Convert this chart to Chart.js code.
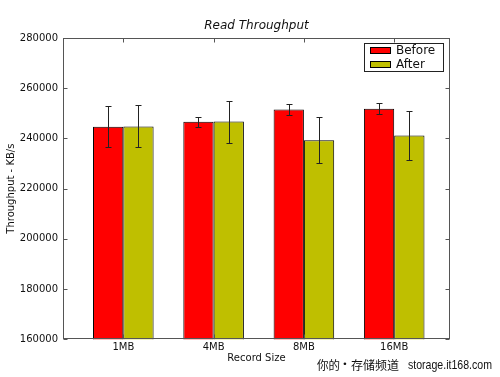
<!DOCTYPE html>
<html>
<head>
<meta charset="utf-8">
<script src="https://cdn.jsdelivr.net/npm/chart.js@4/dist/chart.umd.min.js"></script>
<style>
  html, body { margin: 0; padding: 0; background: #fff; }
  canvas { display: block; }
</style>
</head>
<body>
<canvas id="c" width="500" height="377"></canvas>
<script>
// ---- data ----
const categories = ['1MB', '4MB', '8MB', '16MB'];
const seriesNames = ['Before', 'After'];
const beforeValues = [244700, 246600, 251500, 251800];
const afterValues  = [244800, 246700, 239300, 241200];
const beforeErrors = [8200, 2100, 2300, 2200];
const afterErrors  = [8400, 8400, 9200, 9600];
const yMin = 160000, yMax = 280000, yStep = 20000;
const titleText = 'Read Throughput';
const xTitle = 'Record Size';
const yTitle = 'Throughput - KB/s';
const watermarkCJK = ['你的', '•', '存储频道'];
const watermarkURL = 'storage.it168.com';

const FONT = '"DejaVu Sans", "Liberation Sans", sans-serif';
const idx = categories.map((_, i) => i);

const overlay = {
  id: 'overlay',
  afterDatasetsDraw(chart) {
    const { ctx, scales: { y } } = chart;
    ctx.save();
    ctx.strokeStyle = '#222';
    ctx.lineWidth = 1;
    chart.data.datasets.forEach((ds, di) => {
      const meta = chart.getDatasetMeta(di);
      ds.errorBars.forEach((e, i) => {
        const bar = meta.data[i];
        const v = ds.data[i].y;
        const x = Math.round(bar.x) + 0.5;
        const yt = Math.round(y.getPixelForValue(v + e)) + 0.5;
        const yb = Math.round(y.getPixelForValue(v - e)) + 0.5;
        ctx.beginPath();
        ctx.moveTo(x, yt); ctx.lineTo(x, yb);
        ctx.moveTo(x - 3, yt); ctx.lineTo(x + 3, yt);
        ctx.moveTo(x - 3, yb); ctx.lineTo(x + 3, yb);
        ctx.stroke();
      });
    });
    ctx.restore();
  },
  afterDraw(chart) {
    const { ctx, chartArea: a, scales: { x, y } } = chart;
    ctx.save();
    // frame
    ctx.strokeStyle = '#555';
    ctx.lineWidth = 1;
    const L = Math.round(a.left) + 0.5, R = Math.round(a.right) - 0.5;
    const T = Math.round(a.top) + 0.5, B = Math.round(a.bottom) - 0.5;
    ctx.strokeRect(L, T, R - L, B - T);
    // inward ticks
    ctx.beginPath();
    y.ticks.forEach(t => {
      const py = Math.round(y.getPixelForValue(t.value)) + 0.5;
      ctx.moveTo(L, py); ctx.lineTo(L + 4, py);
      ctx.moveTo(R, py); ctx.lineTo(R - 4, py);
    });
    x.ticks.forEach(t => {
      const px = Math.round(x.getPixelForValue(t.value)) + 0.5;
      ctx.moveTo(px, T); ctx.lineTo(px, T + 4);
      ctx.moveTo(px, B); ctx.lineTo(px, B - 4);
    });
    ctx.stroke();

    // title
    ctx.fillStyle = '#111';
    ctx.font = 'italic 12px ' + FONT;
    ctx.textAlign = 'center';
    ctx.textBaseline = 'middle';
    ctx.fillText(titleText, (a.left + a.right) / 2, 26);

    // legend
    ctx.fillStyle = '#fff';
    ctx.fillRect(364.5, 43.5, 79, 28);
    ctx.strokeStyle = '#222';
    ctx.strokeRect(364.5, 43.5, 79, 28);
    ctx.font = '12px ' + FONT;
    ctx.textAlign = 'left';
    chart.data.datasets.forEach((ds, i) => {
      const sy = 47 + i * 14;
      ctx.fillStyle = ds.backgroundColor;
      ctx.fillRect(370, sy, 21, 7);
      ctx.strokeStyle = '#000';
      ctx.strokeRect(370.5, sy + 0.5, 20, 6);
      ctx.fillStyle = '#111';
      ctx.fillText(ds.label, 396, sy + 4);
    });

    // watermark
    ctx.fillStyle = '#111';
    ctx.font = '12px "Noto Sans CJK SC", sans-serif';
    ctx.fillText(watermarkCJK[0], 317, 365, 23);
    ctx.textAlign = 'center';
    ctx.font = '9px "DejaVu Sans", sans-serif';
    ctx.fillText(watermarkCJK[1], 345, 365);
    ctx.textAlign = 'left';
    ctx.font = '12px "Noto Sans CJK SC", sans-serif';
    ctx.fillText(watermarkCJK[2], 351, 365, 49);
    ctx.font = '13px "Liberation Sans", sans-serif';
    ctx.fillText(watermarkURL, 408, 365, 84);
    ctx.restore();
  }
};

new Chart(document.getElementById('c'), {
  type: 'bar',
  data: {
    datasets: [
      {
        label: seriesNames[0],
        data: idx.map(i => ({ x: i, y: beforeValues[i] })),
        errorBars: beforeErrors,
        backgroundColor: '#ff0000',
        borderColor: '#000',
        borderWidth: 1
      },
      {
        label: seriesNames[1],
        data: idx.map(i => ({ x: i, y: afterValues[i] })),
        errorBars: afterErrors,
        backgroundColor: '#bfbf00',
        borderColor: '#000',
        borderWidth: 1
      }
    ]
  },
  options: {
    responsive: false,
    devicePixelRatio: 1,
    animation: false,
    categoryPercentage: 0.671,
    barPercentage: 1,
    layout: { padding: { left: 0, right: 50, top: 38, bottom: 0 } },
    plugins: {
      legend: { display: false },
      title: { display: false },
      tooltip: { enabled: false }
    },
    scales: {
      x: {
        type: 'linear',
        min: -0.668,
        max: 3.618,
        offset: false,
        grid: { display: false, drawTicks: false },
        border: { display: false },
        afterBuildTicks: s => { s.ticks = idx.map(v => ({ value: v })); },
        afterFit: s => { s.height = 37.7; },
        ticks: {
          padding: 2,
          autoSkip: false,
          maxRotation: 0,
          color: '#111',
          font: { family: FONT, size: 10 },
          callback: v => categories[v]
        },
        title: {
          display: true,
          text: xTitle,
          color: '#111',
          font: { family: FONT, size: 10 },
          padding: { top: 0, bottom: 13 }
        }
      },
      y: {
        min: yMin,
        max: yMax,
        grid: { display: false, drawTicks: false },
        border: { display: false },
        afterFit: s => { s.width = 63; },
        ticks: {
          stepSize: yStep,
          padding: 5,
          color: '#111',
          font: { family: FONT, size: 10 },
          callback: v => String(v)
        },
        title: {
          display: true,
          text: yTitle,
          color: '#111',
          font: { family: FONT, size: 10 },
          padding: { top: 5, bottom: 0 }
        }
      }
    }
  },
  plugins: [overlay]
});
</script>
</body>
</html>
